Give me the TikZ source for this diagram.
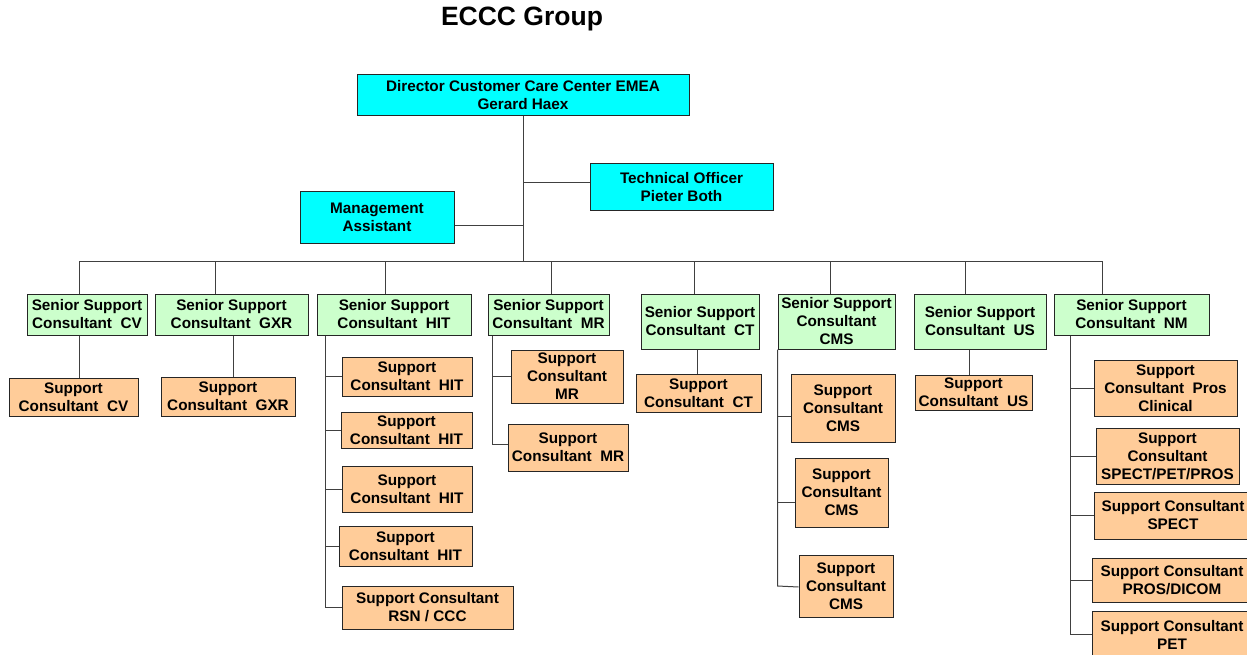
\documentclass[tikz,border=0pt]{standalone}
\usepackage{fontspec}
\setmainfont{Liberation Sans}
\usetikzlibrary{calc}
\definecolor{headcyan}{HTML}{00FFFF}
\definecolor{seniorgreen}{HTML}{CCFFCC}
\definecolor{staffpeach}{HTML}{FFCC99}
\begin{document}
\begin{tikzpicture}[x=1pt,y=-1pt,
  box/.style={draw=black!85, line width=1pt, inner sep=0pt, align=center,
    font=\fontsize{15.3}{18}\selectfont\bfseries},
  head/.style={box, fill=headcyan},
  senior/.style={box, fill=seniorgreen},
  staff/.style={box, fill=staffpeach},
  link/.style={draw=black!75, line width=1pt},
]
\useasboundingbox (0,0) rectangle (1247,655);
\fill[white] (0,0) rectangle (1247,655);

\node[font=\fontsize{26.5}{30}\selectfont\bfseries] (title) at (522,19) {ECCC Group};

% management level
\node[head, minimum width=332, minimum height=41] (dir) at (523,95.5)
  {Director Customer Care Center EMEA\\Gerard Haex};
\node[head, minimum width=183, minimum height=47] (tech) at (681.5,187.5)
  {Technical Officer\\Pieter Both};
\node[head, minimum width=154, minimum height=51] (mgmt) at (377,217.5)
  {Management\\Assistant};

% senior support consultants
\node[senior, minimum width=120, minimum height=41] (cv)  at (87,314.5)   {Senior Support\\Consultant~~CV};
\node[senior, minimum width=153, minimum height=41] (gxr) at (231.5,314.5) {Senior Support\\Consultant~~GXR};
\node[senior, minimum width=154, minimum height=41] (hit) at (394,314.5)  {Senior Support\\Consultant~~HIT};
\node[senior, minimum width=121, minimum height=41] (mr)  at (548.5,314.5) {Senior Support\\Consultant~~MR};
\node[senior, minimum width=118, minimum height=55] (ct)  at (700,321.5)  {Senior Support\\Consultant~~CT};
\node[senior, minimum width=117, minimum height=55] (cms) at (836.5,321.5) {Senior Support\\Consultant\\CMS};
\node[senior, minimum width=132, minimum height=55] (us)  at (980,321.5)  {Senior Support\\Consultant~~US};
\node[senior, minimum width=155, minimum height=41] (nm)  at (1131.5,314.5) {Senior Support\\Consultant~~NM};

% support consultants
\node[staff, minimum width=129, minimum height=38] (jcv)  at (73.5,397)  {Support\\Consultant~~CV};
\node[staff, minimum width=134, minimum height=39] (jgxr) at (228,396.5) {Support\\Consultant~~GXR};

\node[staff, minimum width=130, minimum height=39] (hit1) at (407,376.5)   {Support\\Consultant~~HIT};
\node[staff, minimum width=131, minimum height=36] (hit2) at (406.5,430)   {Support\\Consultant~~HIT};
\node[staff, minimum width=130, minimum height=46] (hit3) at (407,489)     {Support\\Consultant~~HIT};
\node[staff, minimum width=133, minimum height=40] (hit4) at (405.5,546)   {Support\\Consultant~~HIT};
\node[staff, minimum width=171, minimum height=43] (rsn)  at (427.5,607.5) {Support Consultant\\RSN / CCC};

\node[staff, minimum width=112, minimum height=53] (mr1) at (567,376.5) {Support\\Consultant\\MR};
\node[staff, minimum width=120, minimum height=47] (mr2) at (568,447.5) {Support\\Consultant~~MR};

\node[staff, minimum width=125, minimum height=38] (jct) at (698.5,393) {Support\\Consultant~~CT};

\node[staff, minimum width=104, minimum height=68] (cms1) at (843,408)   {Support\\Consultant\\CMS};
\node[staff, minimum width=93,  minimum height=69] (cms2) at (841.5,492.5) {Support\\Consultant\\CMS};
\node[staff, minimum width=94,  minimum height=62] (cms3) at (846,586)   {Support\\Consultant\\CMS};

\node[staff, minimum width=117, minimum height=35] (jus) at (973.5,392.5) {Support\\Consultant~~US};

\node[staff, minimum width=143, minimum height=56] (nm1) at (1165.5,388) {Support\\Consultant~~Pros\\Clinical};
\node[staff, minimum width=143, minimum height=56] (nm2) at (1167.5,456) {Support\\Consultant\\SPECT/PET/PROS};
\node[staff, minimum width=158, minimum height=47] (nm3) at (1173,515.5) {Support Consultant\\SPECT};
\node[staff, minimum width=160, minimum height=44] (nm4) at (1172,580)   {Support Consultant\\PROS/DICOM};
\node[staff, minimum width=160, minimum height=47] (nm5) at (1172,634.5) {Support Consultant\\PET};

% top structure
\coordinate (bus) at (522,261);
\draw[link] (dir.south) -- (dir.south |- bus);
\draw[link] ($(dir.south |- tech.west)+(0,-5)$) -- ($(tech.west)+(0,-5)$);
\draw[link] ($(mgmt.east)+(0,8)$) -- ($(dir.south |- mgmt.east)+(0,8)$);

% drops from the bus to the senior consultants
\draw[link] ($(cv.north)+(-8,0)$) coordinate (dcv) -- (dcv |- bus);
\draw[link] ($(gxr.north)+(-16.5,0)$) coordinate (t) -- (t |- bus);
\draw[link] ($(hit.north)+(-9,0)$) coordinate (t) -- (t |- bus);
\draw[link] ($(mr.north)+(2.5,0)$) coordinate (t) -- (t |- bus);
\draw[link] ($(ct.north)+(-6,0)$) coordinate (t) -- (t |- bus);
\draw[link] ($(cms.north)+(-6.5,0)$) coordinate (t) -- (t |- bus);
\draw[link] ($(us.north)+(-15,0)$) coordinate (t) -- (t |- bus);
\draw[link] ($(nm.north)+(-29.5,0)$) coordinate (dnm) -- (dnm |- bus);
\draw[link] (dcv |- bus) -- (dnm |- bus);

% single reports
\draw[link] ($(cv.south)+(-8,0)$) coordinate (t) -- (t |- jcv.north);
\draw[link] ($(gxr.south)+(1.5,0)$) coordinate (t) -- (t |- jgxr.north);
\draw[link] ($(ct.south)+(-3,0)$) coordinate (t) -- (t |- jct.north);
\draw[link] ($(us.south)+(-11,0)$) coordinate (t) -- (t |- jus.north);

% HIT team
\draw[link] ($(hit.south west)+(9,0)$) coordinate (vh) -- (vh |- rsn.west) -- (rsn.west);
\foreach \n in {hit1,hit2,hit3,hit4} \draw[link] (vh |- \n.west) -- (\n.west);

% MR team
\draw[link] ($(mr.south west)+(5,0)$) coordinate (vm) -- ($(vm |- mr2.west)+(0,-3.5)$) -- ($(mr2.west)+(0,-3.5)$);
\draw[link] (vm |- mr1.west) -- (mr1.west);

% CMS team
\draw[link] (cms.south west) coordinate (vc) -- (vc |- cms3.west) -- ($(cms3.west)+(0,1)$);
\draw[link] ($(vc |- cms1.west)+(0,8)$) -- ($(cms1.west)+(0,8)$);
\draw[link] ($(vc |- cms2.west)+(0,9.5)$) -- ($(cms2.west)+(0,9.5)$);

% NM team
\draw[link] ($(nm.south west)+(17,0)$) coordinate (vn) -- (vn |- nm5.west) -- (nm5.west);
\foreach \n in {nm1,nm2,nm3,nm4} \draw[link] (vn |- \n.west) -- (\n.west);
\end{tikzpicture}
\end{document}
